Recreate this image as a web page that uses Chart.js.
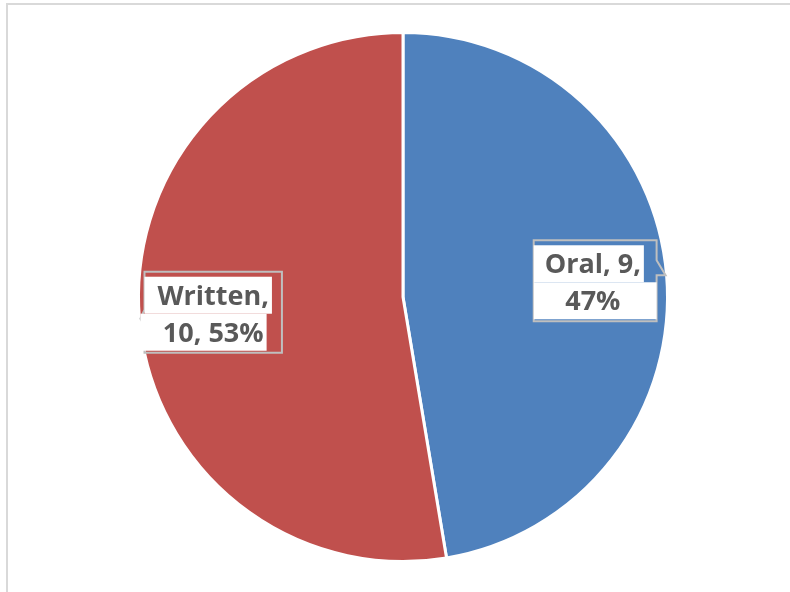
<!DOCTYPE html>
<html>
<head>
<meta charset="utf-8">
<script src="https://cdn.jsdelivr.net/npm/chart.js@4"></script>
<style>
  html, body { margin: 0; padding: 0; background: #fff; }
  #wrap { position: relative; width: 790px; height: 592px; }
  #frame { position: absolute; left: 6px; top: 3px; right: -10px; bottom: -10px;
           border-left: 2px solid #d9d9d9; border-top: 2px solid #d9d9d9; }
  canvas { position: absolute; left: 0; top: 0; }
</style>
</head>
<body>
<div id="wrap">
  <div id="frame"></div>
  <canvas id="pie" width="790" height="592"></canvas>
</div>
<script>
// Chart data
const categories = ['Oral', 'Written'];
const counts = [9, 10];
const sliceColors = ['#4f81bd', '#c0504d'];

const total = counts.reduce((a, b) => a + b, 0);

// Callout labels: "Name, value, pct%" split over two lines
function labelLines(i) {
  const pct = Math.round(counts[i] / total * 100) + '%';
  if (categories[i] === 'Oral') return [categories[i] + ', ' + counts[i] + ',', pct];
  return [categories[i] + ',', counts[i] + ', ' + pct];
}

const calloutPlugin = {
  id: 'callouts',
  afterDatasetsDraw(chart) {
    const ctx = chart.ctx;
    const meta = chart.getDatasetMeta(0);
    ctx.save();
    ctx.font = 'bold 27px "Open Sans"';
    meta.data.forEach((arc, i) => {
      const p = arc.getProps(['x', 'y', 'startAngle', 'endAngle', 'outerRadius'], true);
      const mid = (p.startAngle + p.endAngle) / 2;
      const cx = p.x + Math.cos(mid) * p.outerRadius * 0.72;
      const cy = p.y + Math.sin(mid) * p.outerRadius * 0.72 - 1;
      const tipX = p.x + Math.cos(mid) * (p.outerRadius - 1);
      const tipY = p.y + Math.sin(mid) * (p.outerRadius - 1);

      const lines = labelLines(i);
      const widths = lines.map(l => ctx.measureText(l).width);
      const w = Math.max(...widths) + 26;
      const onRight = tipX > cx;
      const left = cx - w / 2 + (onRight ? 2 : 0);
      const right = onRight ? Math.min(cx + w / 2 + 3, tipX - 9) : cx + w / 2;
      const top = cy - 40, bottom = cy + 41;

      // callout outline with pointer towards the slice edge
      ctx.strokeStyle = '#bfbfbf';
      ctx.lineWidth = 2;
      ctx.beginPath();
      if (onRight) {
        ctx.moveTo(left, top); ctx.lineTo(right, top); ctx.lineTo(right, cy - 20);
        ctx.lineTo(tipX, tipY); ctx.lineTo(right, cy - 5);
        ctx.lineTo(right, bottom); ctx.lineTo(left, bottom); ctx.closePath();
      } else {
        ctx.moveTo(left, top); ctx.lineTo(right, top); ctx.lineTo(right, bottom);
        ctx.lineTo(left, bottom); ctx.lineTo(left, cy + 14);
        ctx.lineTo(tipX, tipY); ctx.lineTo(left, cy - 2); ctx.closePath();
      }
      ctx.stroke();

      // white background per line, then text
      lines.forEach((l, j) => {
        const ly = cy - 35 + j * 37;
        const tx = cx - widths[j] / 2;
        let bgL = left, bgR = tx + widths[j] + 3;
        if (j === 1 && !onRight) bgL = left - 4;
        if (j === 1 && onRight) bgR = right;
        ctx.fillStyle = '#ffffff';
        ctx.fillRect(bgL, ly, bgR - bgL, 37);
        ctx.fillStyle = '#595959';
        ctx.textBaseline = 'alphabetic';
        ctx.fillText(l, tx, ly + 28);
      });
    });
    ctx.restore();
  }
};

new Chart(document.getElementById('pie'), {
  type: 'pie',
  data: {
    labels: categories,
    datasets: [{
      data: counts,
      backgroundColor: sliceColors,
      borderColor: '#ffffff',
      borderWidth: 3
    }]
  },
  options: {
    responsive: false,
    animation: false,
    events: [],
    layout: { padding: { left: 137, right: 121, top: 31, bottom: 29 } },
    plugins: {
      legend: { display: false },
      tooltip: { enabled: false }
    }
  },
  plugins: [calloutPlugin]
});
</script>
</body>
</html>
